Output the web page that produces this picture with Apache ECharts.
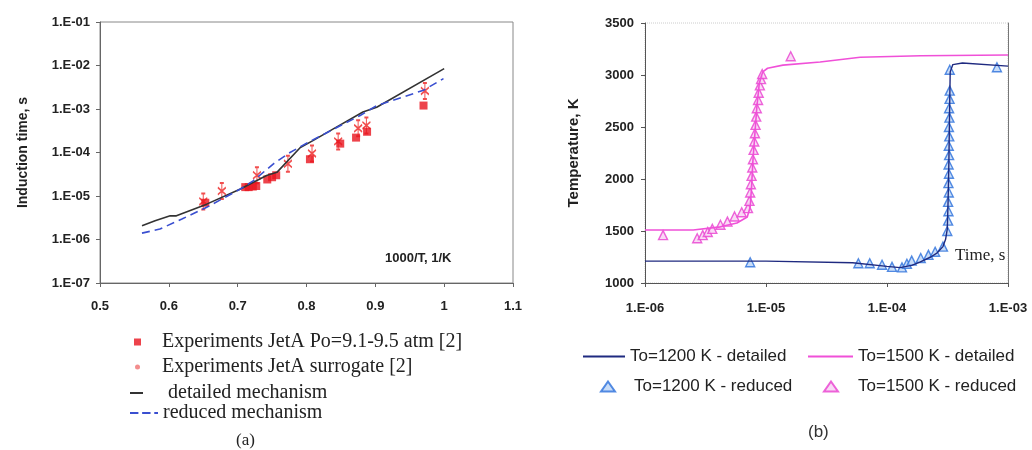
<!DOCTYPE html>
<html>
<head>
<meta charset="utf-8">
<script src="https://cdn.jsdelivr.net/npm/echarts@6/dist/echarts.min.js"></script>
<style>
  html, body { margin: 0; padding: 0; background: #fff; }
  #chart { width: 1032px; height: 450px; }
</style>
</head>
<body>
<div id="chart"></div>
<script>
// (a) induction time vs 1000/T
const detailedA = [[0.561, 2.06e-6], [0.58, 2.7e-6], [0.602, 3.5e-6], [0.611, 3.5e-6], [0.655, 6.5e-6],
  [0.704, 1.45e-5], [0.742, 2.95e-5], [0.757, 3.5e-5], [0.791, 1.3e-4], [0.81, 1.9e-4],
  [0.839, 3.5e-4], [0.882, 8.5e-4], [0.902, 1.1e-3], [1.0, 8.5e-3]]
const reducedA = [[0.561, 1.4e-6], [0.587, 1.74e-6], [0.619, 2.95e-6], [0.655, 5.5e-6], [0.704, 1.45e-5],
  [0.723, 2.26e-5], [0.752, 5.5e-5], [0.776, 1.0e-4], [0.805, 1.8e-4], [0.878, 7.1e-4],
  [0.902, 1.2e-3], [0.941, 1.9e-3], [0.97, 2.7e-3], [0.999, 5.0e-3]]
const expJetA = [[0.653, 7e-6], [0.711, 1.6e-5], [0.716, 1.6e-5], [0.722, 1.65e-5], [0.727, 1.7e-5],
  [0.743, 2.4e-5], [0.75, 2.7e-5], [0.756, 3e-5], [0.805, 7e-5], [0.849, 1.6e-4],
  [0.872, 2.2e-4], [0.888, 3e-4], [0.97, 1.2e-3]]
const expSurrogate = [[0.65, 7.5e-6], [0.677, 1.3e-5], [0.728, 3e-5], [0.773, 5.5e-5], [0.808, 9.5e-5],
  [0.846, 1.8e-4], [0.875, 3.6e-4], [0.887, 4.2e-4], [0.972, 2.6e-3]]

// (b) temperature vs time
const detailed1200 = [[1e-6, 1210], [1e-5, 1210], [5.2e-5, 1195], [1.0e-4, 1160], [1.28e-4, 1148],
  [1.6e-4, 1170], [1.87e-4, 1200], [2.3e-4, 1250], [2.6e-4, 1290], [2.9e-4, 1350], [3.05e-4, 1420],
  [3.15e-4, 1520], [3.2e-4, 1800], [3.25e-4, 2200], [3.3e-4, 2760], [3.33e-4, 3030], [3.5e-4, 3100],
  [4.2e-4, 3115], [1e-3, 3085]]
const detailed1500 = [[1e-6, 1510], [2.5e-6, 1510], [4.2e-6, 1540], [5.75e-6, 1577], [7.0e-6, 1635],
  [7.4e-6, 1730], [7.6e-6, 1925], [7.8e-6, 2180], [8.1e-6, 2440], [8.4e-6, 2690], [8.8e-6, 2920],
  [9.4e-6, 3030], [1.03e-5, 3065], [1.38e-5, 3095], [2.8e-5, 3125], [6e-5, 3170], [1.9e-4, 3185],
  [1e-3, 3192]]
const reduced1200 = [[7.4e-6, 1200], [5.8e-5, 1190], [7.2e-5, 1190], [9.1e-5, 1175], [1.1e-4, 1155],
  [1.33e-4, 1150], [1.46e-4, 1185], [1.6e-4, 1215], [1.9e-4, 1240], [2.2e-4, 1270], [2.5e-4, 1300],
  [2.9e-4, 1350], [3.15e-4, 1500], [3.2e-4, 1600], [3.22e-4, 1690], [3.2e-4, 1780], [3.24e-4, 1870],
  [3.22e-4, 1960], [3.25e-4, 2050], [3.23e-4, 2140], [3.26e-4, 2230], [3.24e-4, 2320], [3.27e-4, 2410],
  [3.25e-4, 2500], [3.28e-4, 2590], [3.26e-4, 2680], [3.29e-4, 2770], [3.3e-4, 2850], [3.3e-4, 3050],
  [8.1e-4, 3075]]
const reduced1500 = [[1.41e-6, 1460], [2.7e-6, 1430], [3.0e-6, 1460], [3.3e-6, 1490], [3.6e-6, 1520],
  [4.2e-6, 1560], [4.8e-6, 1590], [5.5e-6, 1640], [6.3e-6, 1680], [7.1e-6, 1720], [7.3e-6, 1790],
  [7.4e-6, 1870], [7.5e-6, 1950], [7.6e-6, 2030], [7.7e-6, 2110], [7.8e-6, 2190], [7.9e-6, 2280],
  [8.0e-6, 2360], [8.1e-6, 2440], [8.2e-6, 2520], [8.3e-6, 2600], [8.4e-6, 2680], [8.6e-6, 2760],
  [8.7e-6, 2830], [8.9e-6, 2900], [9.1e-6, 2960], [9.3e-6, 3010], [1.6e-5, 3180]]

const sans = 'Liberation Sans, Arial, sans-serif'
const serif = 'Liberation Serif, Times New Roman, serif'

// 1.E-05 style labels
const expLabel = v => {
  const e = Math.round(Math.log10(v))
  const s = String(Math.abs(e)).padStart(2, '0')
  return '1.E' + (e < 0 ? '-' : '+') + s
}

const axisLabel = { fontFamily: sans, fontWeight: 'bold', fontSize: 13, color: '#222' }

const chart = echarts.init(document.getElementById('chart'))

// one legend per entry so each sits where the picture has it
// pad = extra space between icon and text (echarts puts 5px by itself)
const leg = (item, left, top, w, h, pad, font) => ({
  data: [item], left, top, itemWidth: w, itemHeight: h, itemGap: 0,
  padding: 0, selectedMode: false,
  textStyle: {
    fontFamily: font, fontSize: font === serif ? 20 : 17, color: '#222',
    padding: [0, 0, 0, pad]
  }
})

const dashIcon = 'path://M0,0h9v2h-9zM13,0h9v2h-9zM26,0h4v2h-4z'

const option = {
  animation: false,
  backgroundColor: '#fff',
  grid: [
    { left: 100, top: 22, width: 413, height: 261, show: true, borderColor: '#888', borderWidth: 1 },
    { left: 645, top: 23, width: 363, height: 260, show: true, borderColor: '#ccc', borderWidth: 1, borderType: 'dotted' }
  ],
  xAxis: [
    {
      gridIndex: 0, type: 'value', min: 0.5, max: 1.1, interval: 0.1,
      axisLine: { lineStyle: { color: '#666' } },
      axisTick: { length: 4, lineStyle: { color: '#666' } },
      axisLabel: Object.assign({ margin: 17 }, axisLabel),
      splitLine: { show: false }
    },
    {
      gridIndex: 1, type: 'log', logBase: 10, min: 1e-6, max: 1e-3,
      axisLine: { lineStyle: { color: '#555' } },
      axisTick: { length: 4, lineStyle: { color: '#555' } },
      axisLabel: Object.assign({ margin: 19, formatter: expLabel }, axisLabel),
      splitLine: { show: false }, minorTick: { show: false }
    }
  ],
  yAxis: [
    {
      gridIndex: 0, type: 'log', logBase: 10, min: 1e-7, max: 1e-1,
      name: 'Induction time, s', nameLocation: 'middle', nameGap: 70,
      nameTextStyle: { fontFamily: sans, fontWeight: 'bold', fontSize: 14, color: '#222' },
      axisLine: { show: true, lineStyle: { color: '#666' } },
      axisTick: { show: true, length: 4, lineStyle: { color: '#666' } },
      axisLabel: Object.assign({ margin: 10, formatter: expLabel }, axisLabel),
      splitLine: { show: false }
    },
    {
      gridIndex: 1, type: 'value', min: 1000, max: 3500, interval: 500,
      name: 'Temperature, K', nameLocation: 'middle', nameGap: 64,
      nameTextStyle: { fontFamily: sans, fontWeight: 'bold', fontSize: 15, color: '#222' },
      axisLine: { show: true, lineStyle: { color: '#555' } },
      axisTick: { show: true, length: 4, lineStyle: { color: '#555' } },
      axisLabel: Object.assign({ margin: 11, formatter: v => String(v) }, axisLabel),
      splitLine: { show: false }
    },
    {
      // right edge line of plot (b)
      gridIndex: 1, type: 'value', min: 1000, max: 3500, position: 'right',
      axisLine: { show: true, lineStyle: { color: '#777' } },
      axisTick: { show: false }, axisLabel: { show: false }, splitLine: { show: false }
    }
  ],
  legend: [
    leg({ name: 'Experiments JetA Po=9.1-9.5 atm [2]', icon: 'rect' }, 134, 332, 7, 7, 16, serif),
    leg({ name: 'Experiments JetA surrogate [2]', icon: 'circle', itemStyle: { color: '#f07070', borderWidth: 0 } },
      135, 357, 5, 5, 17, serif),
    leg({ name: 'detailed mechanism', icon: 'rect' }, 130, 383, 13, 2, 20, serif),
    leg({ name: 'reduced mechanism', icon: dashIcon }, 130, 403, 28, 2, 0, serif),
    leg({ name: 'To=1200 K - detailed', icon: 'rect' }, 583, 348, 42, 2, 0, sans),
    leg({ name: 'To=1500 K - detailed', icon: 'rect' }, 808, 348, 45, 2, 0, sans),
    leg({ name: 'To=1200 K - reduced' }, 600, 378, 14, 10, 14, sans),
    leg({ name: 'To=1500 K - reduced' }, 823, 378, 14, 10, 15, sans)
  ],
  graphic: [
    { type: 'text', left: 385, top: 252, style: { text: '1000/T, 1/K', font: 'bold 13px ' + sans, fill: '#222' } },
    { type: 'text', left: 955, top: 247, style: { text: 'Time, s', font: '17px ' + serif, fill: '#222' } },
    { type: 'text', left: 236, top: 432, style: { text: '(a)', font: '17px ' + serif, fill: '#222' } },
    { type: 'text', left: 808, top: 424, style: { text: '(b)', font: '17px ' + sans, fill: '#333' } }
  ],
  series: [
    {
      name: 'detailed mechanism', type: 'line', xAxisIndex: 0, yAxisIndex: 0,
      data: detailedA, showSymbol: false, symbol: 'none',
      lineStyle: { color: '#333', width: 1.6 }, itemStyle: { color: '#333' }
    },
    {
      name: 'reduced mechanism', type: 'line', xAxisIndex: 0, yAxisIndex: 0,
      data: reducedA, showSymbol: false, symbol: 'none',
      lineStyle: { color: '#3a4fd0', width: 1.6, type: [8, 5] }, itemStyle: { color: '#3a4fd0' }
    },
    {
      name: 'Experiments JetA surrogate [2]', type: 'scatter', xAxisIndex: 0, yAxisIndex: 0,
      data: expSurrogate, symbol: 'path://M0,5L8,13M8,5L0,13M4,0L4,18M2,0L6,0M2,18L6,18', symbolSize: [8, 16],
      itemStyle: { color: 'rgba(0,0,0,0)', borderColor: '#ee2222', borderWidth: 1.4 }
    },
    {
      name: 'Experiments JetA Po=9.1-9.5 atm [2]', type: 'scatter', xAxisIndex: 0, yAxisIndex: 0,
      data: expJetA, symbol: 'rect', symbolSize: 8,
      itemStyle: { color: '#e8141e' }
    },
    {
      name: 'To=1200 K - detailed', type: 'line', xAxisIndex: 1, yAxisIndex: 1,
      data: detailed1200, showSymbol: false, symbol: 'none',
      lineStyle: { color: '#1f2a80', width: 1.4 }, itemStyle: { color: '#1f2a80' }
    },
    {
      name: 'To=1500 K - detailed', type: 'line', xAxisIndex: 1, yAxisIndex: 1,
      data: detailed1500, showSymbol: false, symbol: 'none',
      lineStyle: { color: '#f050d8', width: 1.6 }, itemStyle: { color: '#f050d8' }
    },
    {
      name: 'To=1200 K - reduced', type: 'scatter', xAxisIndex: 1, yAxisIndex: 1,
      data: reduced1200, symbol: 'triangle', symbolSize: 9,
      itemStyle: { color: '#bcd4f6', borderColor: '#2a6fdb', borderWidth: 1.4 }
    },
    {
      name: 'To=1500 K - reduced', type: 'scatter', xAxisIndex: 1, yAxisIndex: 1,
      data: reduced1500, symbol: 'triangle', symbolSize: 9,
      itemStyle: { color: '#f8d0f2', borderColor: '#e83fd0', borderWidth: 1.4 }
    }
  ]
}

chart.setOption(option)
</script>
</body>
</html>
